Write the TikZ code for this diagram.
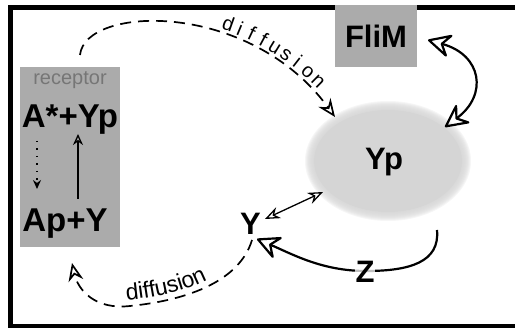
\documentclass[tikz,border=0pt]{standalone}
\usepackage{fontspec}
\setmainfont{Liberation Sans}
\usetikzlibrary{arrows.meta,decorations.text}
\definecolor{boxgray}{HTML}{ABABAB}
\definecolor{labelgray}{HTML}{767676}
\definecolor{cloudgray}{HTML}{D5D5D5}
\newcommand{\bigbold}{\fontsize{31}{31}\selectfont\bfseries}
\newcommand{\panelbold}{\fontsize{33}{33}\selectfont\bfseries}
\tikzset{
  bighead/.tip={Stealth[open,length=26pt,width=26pt,inset=9pt,round]},
  diffhead/.tip={Stealth[open,length=18pt,width=15pt,inset=6pt]},
  smallhead/.tip={Stealth[open,length=15pt,width=12pt,inset=5pt]},
  tinyhead/.tip={Stealth[open,length=9pt,width=8pt,inset=3pt]},
}
\begin{document}
\begin{tikzpicture}[x=1pt,y=-1pt,
  frame/.style={line width=4.5pt,line join=miter},
  panel/.style={fill=boxgray,draw=none,inner sep=0pt},
  species/.style={font=\bigbold,inner sep=0pt,anchor=base},
  diffusepath/.style={dash pattern=on 11pt off 7pt,line width=1.7pt},
  heavy/.style={line width=2.2pt},
  thin/.style={line width=1.3pt}]
\useasboundingbox (0,0) rectangle (515,331);

% outer frame (open on the right)
\draw[frame] (520,7.5) -- (10.5,7.5) -- (10.5,326) -- (520,326);

% receptor panel
\node[panel,minimum width=100pt,minimum height=180pt] (receptor) at (70,157) {};
\node[text=labelgray,font=\fontsize{20}{20}\selectfont,inner sep=0pt,anchor=base] (rlabel) at (70,85) {receptor};
\node[species,font=\panelbold] (active) at (70,128) {A*+Yp};
\node[species,font=\panelbold] (inactive) at (65,232) {Ap+Y};
\coordinate (dotstart) at (37,141);
\coordinate (dotend) at (37,189);
\coordinate (solidstart) at (78,199);
\coordinate (solidend) at (78,134);
\draw[line width=1.5pt,dash pattern=on 1.5pt off 6pt,-{tinyhead}] (dotstart) -- (dotend);
\draw[line width=1.3pt,-{Stealth[open,length=11pt,width=10pt,inset=3.5pt]}] (solidstart) -- (solidend);

% FliM panel
\node[panel,minimum width=82pt,minimum height=62pt] (flim) at (376,36) {};
\node[species] (flimtext) at (376,48) {FliM};

% cytoplasmic Yp cloud with a soft edge
\foreach \r in {0,1,...,8}{
  \fill[cloudgray,fill opacity=0.22] (388,161) ellipse [x radius={75pt+\r pt},y radius={52pt+\r pt}];
}
\fill[cloudgray] (388,161) ellipse [x radius=74pt,y radius=51pt];
\node[inner sep=0pt,minimum width=160pt,minimum height=112pt] (cloud) at (388,161) {};
\node[species] (yp) at (384,170) {Yp};

% free Y and phosphatase Z
\node[species] (y) at (250.5,235) {Y};
\coordinate (zstart) at (437,230);
\coordinate (zmid) at (366,271);
\coordinate (ztip) at (257,239);
\draw[heavy] (zstart) .. controls (440,262) and (410,271) .. (zmid);
\draw[heavy,-{bighead}] (zmid) .. controls (322,271) and (292,254) .. (ztip);
\node[species,fill=white,fill opacity=0.75,text opacity=1,inner xsep=1pt] (z) at (365,283) {Z};

% Y <-> Yp exchange
\coordinate (yend) at (265,219);
\coordinate (ypend) at (323,192);
\draw[thin,{smallhead}-{smallhead}] (yend) -- (ypend);

% Yp <-> FliM binding
\coordinate (flimend) at (428,40);
\coordinate (cloudend) at (445,127);
\draw[heavy,{bighead}-{bighead}] (flimend) .. controls (482,55) and (488,95) .. (cloudend);

% diffusion from receptor to cytoplasm
\coordinate (rtop) at (80,55);
\coordinate (cloudin) at (335,117);
\draw[diffusepath,-{diffhead}] (rtop) .. controls (85,5) and (250,0) .. (cloudin);
\path (rtop) .. controls (85,5) and (250,0) .. (cloudin)
  \foreach \ch [count=\i] in {d,i,f,f,u,s,i,o,n}{
    node[sloped,above=4.5pt,pos={0.61+0.0335*\i},font=\fontsize{20}{20}\selectfont,inner sep=0pt,anchor=south] {\ch}
  };

% diffusion of Y back to the receptor
\coordinate (ybottom) at (252,240);
\coordinate (rbottom) at (72,263);
\draw[diffusepath,-{diffhead}] (ybottom) .. controls (240,280) and (190,300) .. (130,306)
  .. controls (95,310) and (78,290) .. (rbottom);
\path[decorate,decoration={text along path,raise=6pt,text align={left indent=78pt},
  text={|\fontsize{23}{23}\selectfont|diffusion}}]
  (rbottom) .. controls (78,290) and (95,310) .. (130,306)
  .. controls (190,300) and (240,280) .. (ybottom);
\end{tikzpicture}
\end{document}
